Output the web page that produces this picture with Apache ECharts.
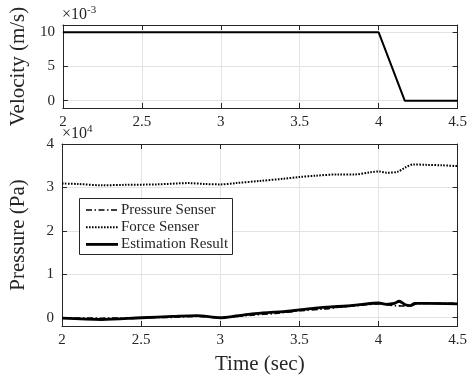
<!DOCTYPE html>
<html><head><meta charset="utf-8">
<script src="https://cdn.jsdelivr.net/npm/echarts@6/dist/echarts.min.js"></script>
<style>html,body{margin:0;padding:0;background:#fff}#c{width:470px;height:378px}</style>
</head><body><div id="c"></div>
<script>
// Velocity (x10^-3 m/s)
const velTime = [2.0, 4.0, 4.165, 4.5];
const velocity = [10, 10, 0, 0];
// Pressure (x10^4 Pa)
const forceTime = [2.0, 2.1, 2.25, 2.4, 2.6, 2.8, 2.9, 3.0, 3.1, 3.25, 3.4, 3.5, 3.6, 3.75, 3.85, 3.95, 4.0, 4.05, 4.12, 4.17, 4.22, 4.3, 4.4, 4.5];
const forceSenser = [3.09, 3.08, 3.05, 3.06, 3.07, 3.1, 3.08, 3.07, 3.1, 3.15, 3.2, 3.24, 3.27, 3.3, 3.3, 3.35, 3.37, 3.34, 3.36, 3.46, 3.53, 3.52, 3.51, 3.49];
const pressTime = [2.0, 2.25, 2.5, 2.7, 2.85, 3.0, 3.1, 3.2, 3.35, 3.5, 3.65, 3.75, 3.9, 4.0, 4.05, 4.1, 4.15, 4.2, 4.25, 4.35, 4.5];
const pressureSenser = [0.0, -0.01, 0.0, 0.01, 0.03, 0.0, 0.03, 0.06, 0.1, 0.16, 0.2, 0.24, 0.29, 0.32, 0.3, 0.28, 0.27, 0.27, 0.33, 0.33, 0.33];
const estTime = [2.0, 2.25, 2.5, 2.7, 2.85, 3.0, 3.1, 3.2, 3.3, 3.4, 3.5, 3.6, 3.7, 3.8, 3.9, 4.0, 4.05, 4.1, 4.13, 4.17, 4.2, 4.23, 4.3, 4.5];
const estimationResult = [-0.01, -0.04, 0.0, 0.03, 0.05, 0.0, 0.04, 0.09, 0.12, 0.14, 0.18, 0.22, 0.25, 0.27, 0.31, 0.34, 0.31, 0.33, 0.38, 0.3, 0.28, 0.33, 0.33, 0.32];
const xTicks = [2, 2.5, 3, 3.5, 4, 4.5];
const velTicks = [0, 5, 10];
const presTicks = [0, 1, 2, 3, 4];
const legendNames = ['Pressure Senser', 'Force Senser', 'Estimation Result'];

const zip = (a, b) => a.map((v, i) => [v, b[i]]);
const FONT = 'Liberation Serif';
const TXT = '#262626';
const AX = '#262626';
const GRIDC = '#e3e3e3';
const styles = {
  'Pressure Senser': {color: '#000', width: 1.6, type: [6, 2.5, 1.5, 2.5]},
  'Force Senser': {color: '#000', width: 2, type: [1.6, 1.4]},
  'Estimation Result': {color: '#000', width: 2.8, type: 'solid'}
};

function xAx(gi, showLabel, pos, name) {
  return {
    type: 'value', gridIndex: gi, min: 2, max: 4.5, position: pos,
    axisLine: {show: true, onZero: false, lineStyle: {color: AX, width: 1}},
    axisTick: {show: true, inside: true, length: 5, customValues: xTicks, lineStyle: {color: AX}},
    axisLabel: {show: showLabel, customValues: xTicks, color: TXT, fontFamily: FONT, fontSize: 15, margin: 7},
    splitLine: {show: pos === 'bottom', lineStyle: {color: GRIDC}},
    name: name || '', nameLocation: 'middle', nameGap: 28,
    nameTextStyle: {color: TXT, fontFamily: FONT, fontSize: 21}
  };
}
function yAx(gi, min, max, ticks, pos, showLabel, name, gap) {
  return {
    type: 'value', gridIndex: gi, min: min, max: max, position: pos,
    axisLine: {show: true, onZero: false, lineStyle: {color: AX, width: 1}},
    axisTick: {show: true, inside: true, length: 5, customValues: ticks, lineStyle: {color: AX}},
    axisLabel: {show: showLabel, customValues: ticks, color: TXT, fontFamily: FONT, fontSize: 15, margin: 8},
    splitLine: {show: pos === 'left', lineStyle: {color: GRIDC}},
    name: name || '', nameLocation: 'middle', nameGap: gap || 30, nameRotate: 90,
    nameTextStyle: {color: TXT, fontFamily: FONT, fontSize: 21}
  };
}

const sup = (base, exp, left, top) => ({
  type: 'text', left: left, top: top, z: 10,
  style: {text: '{a|' + base + '}{b|' + exp + '}', rich: {
    a: {fontFamily: FONT, fontSize: 16, fill: TXT},
    b: {fontFamily: FONT, fontSize: 11, fill: TXT, verticalAlign: 'top', padding: [0, 0, 9, 0]}}}
});

// legend drawn as graphic (line sample + text)
const legendGraphic = [{
  type: 'rect', shape: {x: 79.5, y: 198.5, width: 153, height: 56}, z: 20,
  style: {fill: '#fff', stroke: '#262626', lineWidth: 1}
}];
legendNames.forEach((n, i) => {
  const y = 210 + i * 17.2;
  const s = styles[n];
  legendGraphic.push({type: 'line', z: 21, shape: {x1: 86, y1: y, x2: 118, y2: y},
    style: {stroke: s.color, lineWidth: s.width, lineDash: s.type === 'solid' ? null : s.type}});
  legendGraphic.push({type: 'text', z: 21, x: 121, y: y,
    style: {text: n, fontFamily: FONT, fontSize: 15, fill: TXT, verticalAlign: 'middle'}});
});

const chart = echarts.init(document.getElementById('c'), null, {renderer: 'canvas'});
chart.setOption({
  backgroundColor: '#fff',
  animation: false,
  grid: [
    {left: 62, top: 25, width: 400, height: 83},
    {left: 62, top: 144, width: 400, height: 182}
  ],
  xAxis: [
    xAx(0, true, 'bottom'), xAx(0, false, 'top'),
    xAx(1, true, 'bottom', 'Time (sec)'), xAx(1, false, 'top')
  ],
  yAxis: [
    yAx(0, -1.07, 11.07, velTicks, 'left', true, 'Velocity (m/s)', 33),
    yAx(0, -1.07, 11.07, velTicks, 'right', false),
    yAx(1, -0.19, 4, presTicks, 'left', true, 'Pressure (Pa)', 33),
    yAx(1, -0.19, 4, presTicks, 'right', false)
  ],
  graphic: [sup('×10', '-3', 62, 5), sup('×10', '4', 62, 124)].concat(legendGraphic),
  series: [
    {type: 'line', name: 'Velocity', xAxisIndex: 0, yAxisIndex: 0, data: zip(velTime, velocity), symbol: 'none', lineStyle: {color: '#000', width: 2}, z: 5},
    {type: 'line', name: legendNames[0], xAxisIndex: 2, yAxisIndex: 2, data: zip(pressTime, pressureSenser), symbol: 'none', smooth: 0.3, lineStyle: styles[legendNames[0]], z: 6},
    {type: 'line', name: legendNames[1], xAxisIndex: 2, yAxisIndex: 2, data: zip(forceTime, forceSenser), symbol: 'none', smooth: 0.3, lineStyle: styles[legendNames[1]], z: 5},
    {type: 'line', name: legendNames[2], xAxisIndex: 2, yAxisIndex: 2, data: zip(estTime, estimationResult), symbol: 'none', smooth: 0.3, lineStyle: styles[legendNames[2]], z: 5}
  ]
});
</script></body></html>
